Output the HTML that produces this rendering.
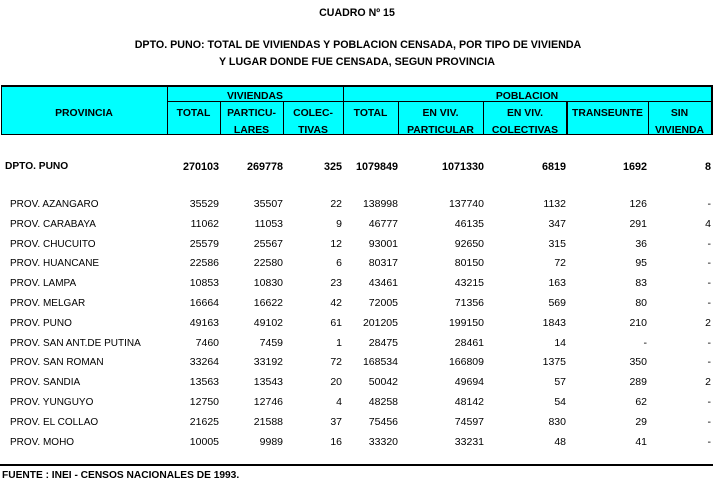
<!DOCTYPE html>
<html><head><meta charset="utf-8">
<style>
*{margin:0;padding:0;box-sizing:border-box}
html,body{width:714px;height:483px;background:#fff;overflow:hidden}
body{position:relative;font-family:"Liberation Sans",Arial,sans-serif;color:#000}
.t{position:absolute;white-space:nowrap;font-weight:bold;font-size:10.4px;line-height:12px;text-align:center}
.box{position:absolute;left:1px;top:85px;width:712px;height:50px;background:#00ffff;border-top:2px solid #000;border-left:1px solid #000;border-right:2px solid #000;border-bottom:1px solid #000}
.v{position:absolute;background:#000;width:1px}
.h{position:absolute;background:#000;height:1px}
.row{position:absolute;left:0;width:714px;height:12px;font-size:10px;line-height:12px}
.row span{position:absolute;top:0;white-space:nowrap}
.n{text-align:right;left:0;font-size:10.5px}
.b{font-weight:bold}
.b .n{font-size:10.8px}
.c1{width:219px}.c2{width:283px}.c3{width:342px}.c4{width:398px}.c5{width:484px}.c6{width:566px}.c7{width:647px}.c8{width:711px}
.row span.p{left:10px;top:1px}
</style></head><body>
<div class="t" style="left:0;width:714px;top:7px;font-size:10.6px">CUADRO Nº 15</div>
<div class="t" style="left:0;width:716px;top:39px;font-size:10.7px">DPTO. PUNO: TOTAL DE VIVIENDAS Y POBLACION CENSADA, POR TIPO DE VIVIENDA</div>
<div class="t" style="left:0;width:714px;top:56px;font-size:10.7px">Y LUGAR DONDE FUE CENSADA, SEGUN PROVINCIA</div>

<div class="box"></div>
<div class="h" style="left:167px;top:101px;width:545px"></div>
<div class="v" style="left:167px;top:87px;height:48px"></div>
<div class="v" style="left:343px;top:87px;height:48px"></div>
<div class="v" style="left:220px;top:101px;height:34px"></div>
<div class="v" style="left:283px;top:101px;height:34px"></div>
<div class="v" style="left:398px;top:101px;height:34px"></div>
<div class="v" style="left:483px;top:101px;height:34px"></div>
<div class="v" style="left:566px;top:101px;height:34px;width:2px"></div>
<div class="v" style="left:648px;top:101px;height:34px"></div>

<div class="t" style="left:1px;width:166px;top:108px">PROVINCIA</div>
<div class="t" style="left:167px;width:176px;top:91px">VIVIENDAS</div>
<div class="t" style="left:343px;width:368px;top:91px">POBLACION</div>
<div class="t" style="left:167px;width:53px;top:108px">TOTAL</div>
<div class="t" style="left:220px;width:63px;top:108px">PARTICU-</div>
<div class="t" style="left:220px;width:63px;top:125px">LARES</div>
<div class="t" style="left:283px;width:60px;top:108px">COLEC-</div>
<div class="t" style="left:283px;width:60px;top:125px">TIVAS</div>
<div class="t" style="left:343px;width:55px;top:108px">TOTAL</div>
<div class="t" style="left:398px;width:85px;top:108px">EN VIV.</div>
<div class="t" style="left:398px;width:85px;top:125px">PARTICULAR</div>
<div class="t" style="left:483px;width:84px;top:108px">EN VIV.</div>
<div class="t" style="left:483px;width:84px;top:125px">COLECTIVAS</div>
<div class="t" style="left:567px;width:81px;top:108px">TRANSEUNTE</div>
<div class="t" style="left:648px;width:63px;top:108px">SIN</div>
<div class="t" style="left:648px;width:63px;top:125px">VIVIENDA</div>

<div class="row b" style="top:161px"><span style="left:5px;font-size:10.2px">DPTO. PUNO</span><span class="n c1">270103</span><span class="n c2">269778</span><span class="n c3">325</span><span class="n c4">1079849</span><span class="n c5">1071330</span><span class="n c6">6819</span><span class="n c7">1692</span><span class="n c8">8</span></div>

<div class="row" style="top:198px"><span class="p">PROV. AZANGARO</span><span class="n c1">35529</span><span class="n c2">35507</span><span class="n c3">22</span><span class="n c4">138998</span><span class="n c5">137740</span><span class="n c6">1132</span><span class="n c7">126</span><span class="n c8">-</span></div>
<div class="row" style="top:217.8px"><span class="p">PROV. CARABAYA</span><span class="n c1">11062</span><span class="n c2">11053</span><span class="n c3">9</span><span class="n c4">46777</span><span class="n c5">46135</span><span class="n c6">347</span><span class="n c7">291</span><span class="n c8">4</span></div>
<div class="row" style="top:237.6px"><span class="p">PROV. CHUCUITO</span><span class="n c1">25579</span><span class="n c2">25567</span><span class="n c3">12</span><span class="n c4">93001</span><span class="n c5">92650</span><span class="n c6">315</span><span class="n c7">36</span><span class="n c8">-</span></div>
<div class="row" style="top:257.4px"><span class="p">PROV. HUANCANE</span><span class="n c1">22586</span><span class="n c2">22580</span><span class="n c3">6</span><span class="n c4">80317</span><span class="n c5">80150</span><span class="n c6">72</span><span class="n c7">95</span><span class="n c8">-</span></div>
<div class="row" style="top:277.2px"><span class="p">PROV. LAMPA</span><span class="n c1">10853</span><span class="n c2">10830</span><span class="n c3">23</span><span class="n c4">43461</span><span class="n c5">43215</span><span class="n c6">163</span><span class="n c7">83</span><span class="n c8">-</span></div>
<div class="row" style="top:297px"><span class="p">PROV. MELGAR</span><span class="n c1">16664</span><span class="n c2">16622</span><span class="n c3">42</span><span class="n c4">72005</span><span class="n c5">71356</span><span class="n c6">569</span><span class="n c7">80</span><span class="n c8">-</span></div>
<div class="row" style="top:316.8px"><span class="p">PROV. PUNO</span><span class="n c1">49163</span><span class="n c2">49102</span><span class="n c3">61</span><span class="n c4">201205</span><span class="n c5">199150</span><span class="n c6">1843</span><span class="n c7">210</span><span class="n c8">2</span></div>
<div class="row" style="top:336.6px"><span class="p">PROV. SAN ANT.DE PUTINA</span><span class="n c1">7460</span><span class="n c2">7459</span><span class="n c3">1</span><span class="n c4">28475</span><span class="n c5">28461</span><span class="n c6">14</span><span class="n c7">-</span><span class="n c8">-</span></div>
<div class="row" style="top:356.4px"><span class="p">PROV. SAN ROMAN</span><span class="n c1">33264</span><span class="n c2">33192</span><span class="n c3">72</span><span class="n c4">168534</span><span class="n c5">166809</span><span class="n c6">1375</span><span class="n c7">350</span><span class="n c8">-</span></div>
<div class="row" style="top:376.2px"><span class="p">PROV. SANDIA</span><span class="n c1">13563</span><span class="n c2">13543</span><span class="n c3">20</span><span class="n c4">50042</span><span class="n c5">49694</span><span class="n c6">57</span><span class="n c7">289</span><span class="n c8">2</span></div>
<div class="row" style="top:396px"><span class="p">PROV. YUNGUYO</span><span class="n c1">12750</span><span class="n c2">12746</span><span class="n c3">4</span><span class="n c4">48258</span><span class="n c5">48142</span><span class="n c6">54</span><span class="n c7">62</span><span class="n c8">-</span></div>
<div class="row" style="top:415.8px"><span class="p">PROV. EL COLLAO</span><span class="n c1">21625</span><span class="n c2">21588</span><span class="n c3">37</span><span class="n c4">75456</span><span class="n c5">74597</span><span class="n c6">830</span><span class="n c7">29</span><span class="n c8">-</span></div>
<div class="row" style="top:435.6px"><span class="p">PROV. MOHO</span><span class="n c1">10005</span><span class="n c2">9989</span><span class="n c3">16</span><span class="n c4">33320</span><span class="n c5">33231</span><span class="n c6">48</span><span class="n c7">41</span><span class="n c8">-</span></div>

<div class="h" style="left:0;top:464px;width:713px;height:2px"></div>
<div class="t" style="left:2px;top:470px;text-align:left;font-size:10.2px">FUENTE : INEI - CENSOS NACIONALES DE 1993.</div>
</body></html>
